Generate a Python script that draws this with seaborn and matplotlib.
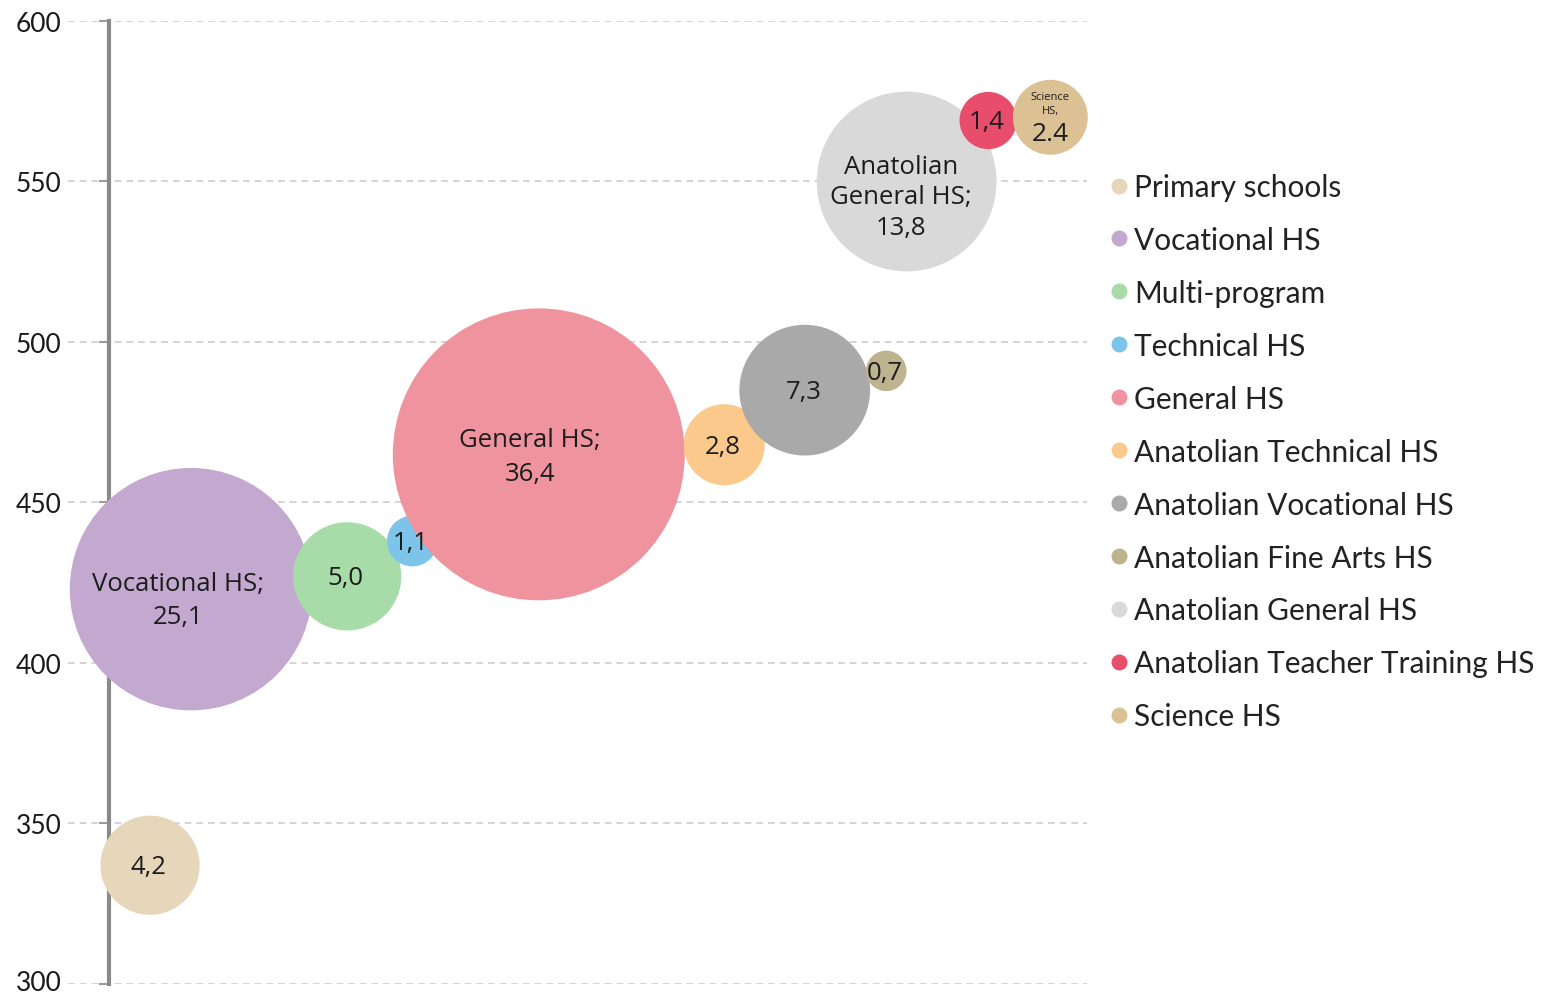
import numpy as np
import pandas as pd
import matplotlib
matplotlib.use("Agg")
import matplotlib.pyplot as plt
import matplotlib.transforms as mtransforms
from matplotlib.lines import Line2D
import seaborn as sns

# School types, average score (y), horizontal placement and share of students (%)
school_types = [
    "Primary schools", "Vocational HS", "Multi-program", "Technical HS",
    "General HS", "Anatolian Technical HS", "Anatolian Vocational HS",
    "Anatolian Fine Arts HS", "Anatolian General HS",
    "Anatolian Teacher Training HS", "Science HS",
]
avg_score = [337, 423, 427, 438, 465, 468, 485, 491, 550, 569, 570]
x_pos = [8.05, 12.07, 27.4, 33.8, 46.2, 64.4, 72.3, 80.3, 82.3, 90.3, 96.4]
share = [4.2, 25.1, 5.0, 1.1, 36.4, 2.8, 7.3, 0.7, 13.8, 1.4, 2.4]
colors = ["#e6d7bb", "#c3a9d0", "#a7dba8", "#7dc4ea", "#ef949e", "#fcc98c",
          "#a9a9a9", "#beb38f", "#d9d9d9", "#e84d6b", "#dcc194"]
y_ticks = [300, 350, 400, 450, 500, 550, 600]

df = pd.DataFrame({"type": school_types, "score": avg_score,
                   "x": x_pos, "share": share})

sns.set_theme(style="white")
plt.rcParams["font.family"] = ["Lato", "DejaVu Sans"]

fig = plt.figure(figsize=(15.45, 9.95), dpi=100)
ax = fig.add_axes([68 / 1545, 10 / 995, 1019 / 1545, 963 / 995])

# marker area proportional to the share of students
k = 1214.0
smin, smax = min(share), max(share)
sns.scatterplot(data=df, x="x", y="score", hue="type", palette=colors,
                size="share", sizes=(k * smin, k * smax), size_norm=(smin, smax),
                linewidth=0, alpha=1, legend=False, ax=ax, zorder=2, clip_on=False)

ax.set_xlim(0, 100)
ax.set_ylim(300, 600)
ax.set_yticks(y_ticks)
ax.set_xticks([])
ax.set_xlabel("")
ax.set_ylabel("")

for side in ["top", "right", "bottom"]:
    ax.spines[side].set_visible(False)
ax.spines["left"].set_position(("axes", 41 / 1019))
ax.spines["left"].set_color("#8a8a8a")
ax.spines["left"].set_linewidth(3)
ax.spines["left"].set_zorder(1)
ax.tick_params(axis="y", left=True, length=7, width=1.5, color="#9a9a9a",
               pad=27, labelsize=19, labelcolor="#1a1a1a")
ax.yaxis.grid(True, color="#d4d4d4", linestyle=(0, (3.5, 2.5)), linewidth=1.4)
ax.set_axisbelow(True)

# keep the bottom tick label inside the canvas
fig.canvas.draw()
bottom_lab = ax.get_yticklabels()[0]
bottom_lab.set_transform(bottom_lab.get_transform() +
                         mtransforms.ScaledTranslation(0, 4 / 100, fig.dpi_scale_trans))

# bubble labels
lab_font = ["Open Sans", "DejaVu Sans"]
def fmt(v, sep=","):
    return f"{v:.1f}".replace(".", sep)

label_text = {
    "Vocational HS": "Vocational HS;\n" + fmt(share[1]),
    "General HS": "General HS;\n" + fmt(share[4]),
    "Anatolian General HS": "Anatolian\nGeneral HS;\n" + fmt(share[8]),
}
label_offset = {  # offsets in points from bubble centre
    "Vocational HS": (-9, -8),
    "General HS": (-6.5, -1.5),
    "Anatolian General HS": (-4, -11),
}
label_spacing = {"Vocational HS": 1.4, "General HS": 1.45,
                 "Anatolian General HS": 1.3}
for i, name in enumerate(school_types):
    if name == "Science HS":
        continue
    txt = label_text.get(name, fmt(share[i]))
    dx, dy = label_offset.get(name, (-1, -1))
    ax.annotate(txt, (x_pos[i], avg_score[i]), xytext=(dx, dy),
                textcoords="offset points", ha="center", va="center",
                fontsize=18.5, family=lab_font, color="#1c1c1c",
                linespacing=label_spacing.get(name, 1.2), zorder=5,
                annotation_clip=False)

i_sci = school_types.index("Science HS")
ax.annotate("Science\nHS,", (x_pos[i_sci], avg_score[i_sci]), xytext=(0, 10),
            textcoords="offset points", ha="center", va="center", fontsize=8,
            family=lab_font, color="#1c1c1c", linespacing=1.3, zorder=5)
ax.annotate(fmt(share[i_sci], "."), (x_pos[i_sci], avg_score[i_sci]),
            xytext=(0, -11.5), textcoords="offset points", ha="center",
            va="center", fontsize=19, family=lab_font, color="#1c1c1c", zorder=5)

# legend
handles = [Line2D([0], [0], marker="o", linestyle="", markersize=11.5,
                  markerfacecolor=c, markeredgewidth=0) for c in colors]
fig.legend(handles, school_types, loc="upper left",
           bbox_to_anchor=(1110 / 1545, 1 - 174 / 995), frameon=False,
           fontsize=21.5, labelspacing=0.835, handlelength=0.6,
           handletextpad=0.22, borderpad=0, borderaxespad=0,
           labelcolor="#222222")

fig.savefig("out.png", dpi=100)
